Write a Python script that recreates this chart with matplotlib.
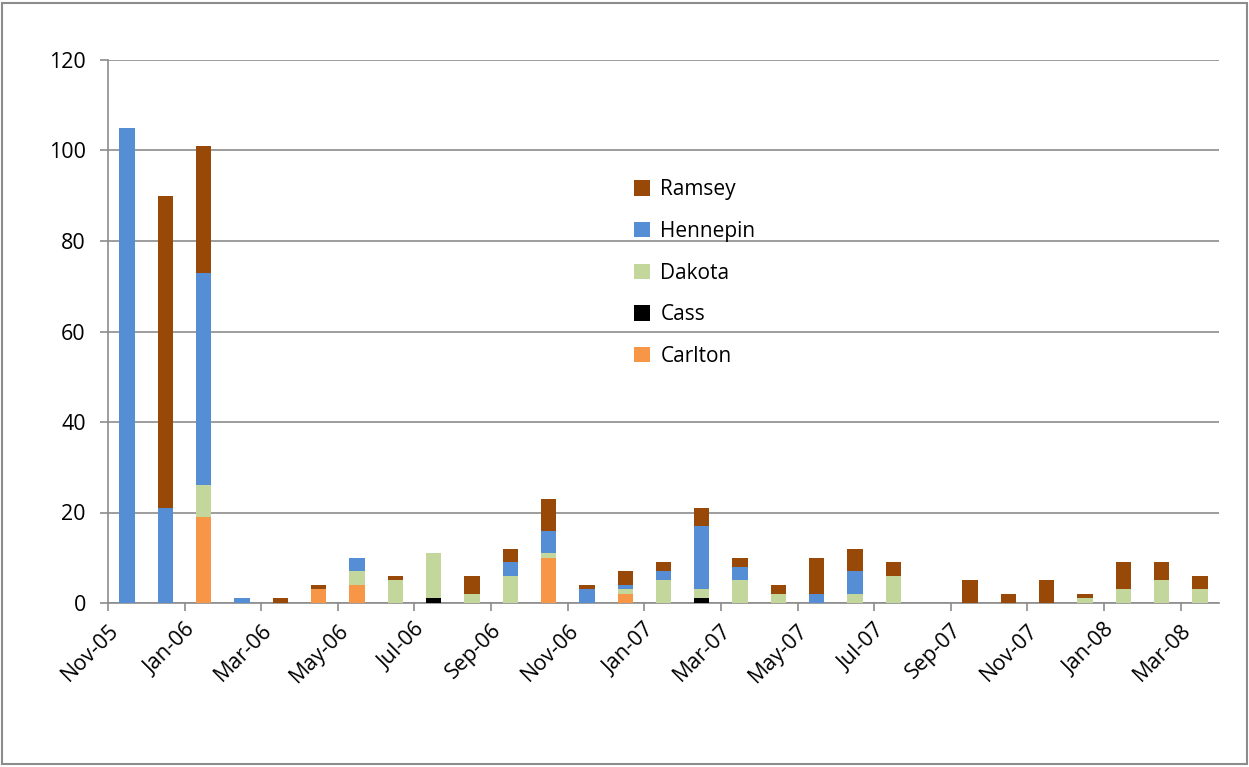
import numpy as np
import matplotlib.pyplot as plt
from matplotlib.patches import Rectangle

months = ['Nov-05', 'Dec-05', 'Jan-06', 'Feb-06', 'Mar-06', 'Apr-06', 'May-06',
          'Jun-06', 'Jul-06', 'Aug-06', 'Sep-06', 'Oct-06', 'Nov-06', 'Dec-06',
          'Jan-07', 'Feb-07', 'Mar-07', 'Apr-07', 'May-07', 'Jun-07', 'Jul-07',
          'Aug-07', 'Sep-07', 'Oct-07', 'Nov-07', 'Dec-07', 'Jan-08', 'Feb-08',
          'Mar-08']

carlton  = [0, 0, 19, 0, 0, 3, 4, 0, 0, 0, 0, 10, 0, 2, 0, 0, 0, 0, 0, 0, 0, 0, 0, 0, 0, 0, 0, 0, 0]
cass     = [0, 0, 0, 0, 0, 0, 0, 0, 1, 0, 0, 0, 0, 0, 0, 1, 0, 0, 0, 0, 0, 0, 0, 0, 0, 0, 0, 0, 0]
dakota   = [0, 0, 7, 0, 0, 0, 3, 5, 10, 2, 6, 1, 0, 1, 5, 2, 5, 2, 0, 2, 6, 0, 0, 0, 0, 1, 3, 5, 3]
hennepin = [105, 21, 47, 1, 0, 0, 3, 0, 0, 0, 3, 5, 3, 1, 2, 14, 3, 0, 2, 5, 0, 0, 0, 0, 0, 0, 0, 0, 0]
ramsey   = [0, 69, 28, 0, 1, 1, 0, 1, 0, 4, 3, 7, 1, 3, 2, 4, 2, 2, 8, 5, 3, 0, 5, 2, 5, 1, 6, 4, 3]

series = [('Carlton', carlton, '#F79646'),
          ('Cass', cass, '#000000'),
          ('Dakota', dakota, '#C3D69B'),
          ('Hennepin', hennepin, '#558ED5'),
          ('Ramsey', ramsey, '#984807')]

plt.rcParams['font.family'] = ['Open Sans', 'DejaVu Sans']

fig = plt.figure(figsize=(12.49, 7.67), dpi=100)
ax = fig.add_axes([108 / 1249, 1 - 603 / 767, (1219 - 108) / 1249, (603 - 60) / 767])

x = np.arange(len(months)) + 0.5
bottom = np.zeros(len(months))
handles = []
for name, vals, color in series:
    vals = np.array(vals, dtype=float)
    b = ax.bar(x, vals, width=0.4, bottom=bottom, color=color, edgecolor='none',
               label=name, zorder=3)
    handles.append(b)
    bottom += vals

ax.set_xlim(0, len(months))
ax.set_ylim(0, 120)
ax.set_yticks(range(0, 121, 20))
ax.yaxis.grid(True, color='#8c8c8c', linewidth=1.2, zorder=0)

ax.set_xticks(np.arange(0, len(months), 2))
ax.set_xticklabels(months[::2], rotation=45, ha='right', rotation_mode='anchor')

for side in ['top', 'right']:
    ax.spines[side].set_visible(False)
for side in ['left', 'bottom']:
    ax.spines[side].set_color('#8c8c8c')
    ax.spines[side].set_linewidth(1.2)

ax.tick_params(axis='both', colors='#8c8c8c', length=6, width=1.2, labelsize=15.5,
               labelcolor='black')
ax.tick_params(axis='y', pad=10)
ax.tick_params(axis='x', pad=6)

leg = ax.legend(handles[::-1], [s[0] for s in series][::-1],
                loc='upper left', bbox_to_anchor=(518 / 1111, (603 - 171) / 543),
                frameon=False, fontsize=15, handlelength=0.75, handleheight=0.75,
                labelspacing=0.99, handletextpad=0.5, borderaxespad=0)

fig.patches.append(Rectangle((0.002, 0.004), 0.996, 0.992, transform=fig.transFigure,
                             fill=False, edgecolor='#8c8c8c', linewidth=1.5))

fig.savefig('out.png', dpi=100)
